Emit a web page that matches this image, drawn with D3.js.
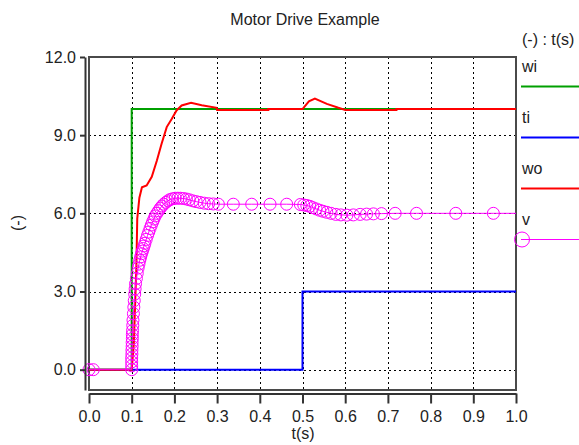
<!DOCTYPE html>
<html>
<head>
<meta charset="utf-8">
<script src="https://cdn.jsdelivr.net/npm/d3@7"></script>
<style>
body { margin: 0; background: #ffffff; }
text { font-family: "Liberation Sans", Arial, sans-serif; font-size: 16px; fill: #222; }
</style>
</head>
<body>
<script>

// series data
var wiT = [0, 0.1, 0.1, 1.0];
var wiV = [0, 0, 10, 10];

var tiT = [0, 0.5, 0.5, 1.0];
var tiV = [0, 0, 3, 3];

var woT = [0, 0.1, 0.105, 0.108, 0.111, 0.113, 0.118, 0.124, 0.135, 0.147, 0.159, 0.170, 0.182, 0.194, 0.205, 0.217, 0.239, 0.264, 0.299, 0.30, 0.42, 0.42, 0.50, 0.515, 0.529, 0.557, 0.584, 0.60, 0.72, 0.72, 1.0];
var woV = [0, 0, 1.0, 2.5, 4.0, 5.8, 6.6, 7.0, 7.07, 7.4, 8.03, 8.67, 9.31, 9.63, 9.95, 10.14, 10.24, 10.15, 10.05, 9.97, 9.97, 10.0, 10.0, 10.3, 10.4, 10.2, 10.05, 9.97, 9.97, 10.0, 10.0];

var vT = [0, 0.01, 0.1, 0.1, 0.1, 0.1, 0.1005, 0.1005, 0.101, 0.101, 0.1015, 0.1015, 0.102, 0.1025, 0.103, 0.104, 0.105, 0.106, 0.107, 0.108, 0.109, 0.111, 0.113, 0.115, 0.117, 0.119, 0.121, 0.123, 0.125, 0.127, 0.129, 0.131, 0.134, 0.137, 0.140, 0.143, 0.146, 0.149, 0.152, 0.155, 0.159, 0.163, 0.167, 0.171, 0.175, 0.180, 0.185, 0.190, 0.196, 0.202, 0.208, 0.214, 0.221, 0.228, 0.235, 0.243, 0.251, 0.260, 0.270, 0.280, 0.291, 0.303, 0.338, 0.381, 0.424, 0.463, 0.495, 0.503, 0.510, 0.517, 0.524, 0.532, 0.540, 0.548, 0.557, 0.567, 0.578, 0.590, 0.604, 0.619, 0.635, 0.650, 0.666, 0.685, 0.717, 0.767, 0.859, 0.947, 1.0];
var vV = [0, 0, 0, 0.15, 0.3, 0.45, 0.6, 0.75, 0.9, 1.05, 1.2, 1.35, 1.5, 1.7, 1.9, 2.15, 2.4, 2.65, 2.9, 3.1, 3.3, 3.5, 3.7, 3.9, 4.05, 4.2, 4.33, 4.45, 4.55, 4.65, 4.75, 4.85, 5.0, 5.15, 5.28, 5.42, 5.55, 5.67, 5.78, 5.9, 6.0, 6.1, 6.2, 6.28, 6.35, 6.42, 6.48, 6.53, 6.56, 6.58, 6.58, 6.58, 6.57, 6.55, 6.52, 6.48, 6.45, 6.42, 6.39, 6.37, 6.36, 6.35, 6.35, 6.35, 6.35, 6.35, 6.34, 6.32, 6.3, 6.27, 6.22, 6.17, 6.12, 6.08, 6.04, 6.0, 5.96, 5.94, 5.93, 5.94, 5.96, 5.97, 5.98, 5.99, 6.0, 6.0, 6.0, 6.0, 6.0];

var xTicks = [0, 0.1, 0.2, 0.3, 0.4, 0.5, 0.6, 0.7, 0.8, 0.9, 1.0];
var yTicks = [0, 3, 6, 9, 12];
var xGrid = [0.1, 0.2, 0.3, 0.4, 0.5, 0.6, 0.7, 0.8, 0.9];
var yGrid = [0, 3, 6, 9];

var names = ["wi", "ti", "wo", "v"];
var colors = ["#00a000", "#0000ff", "#ff0000", "#ff00ff"];

var svg = d3.select("body").append("svg")
	.attr("width", 579)
	.attr("height", 445);

var x = d3.scaleLinear().domain([0, 1]).range([89, 516]);
var y = d3.scaleLinear().domain([-0.78, 12]).range([390, 57]);

// dotted grid
svg.selectAll(".vgrid").data(xGrid).enter().append("line")
	.attr("x1", function(d) { return Math.round(x(d)) + 0.5; })
	.attr("x2", function(d) { return Math.round(x(d)) + 0.5; })
	.attr("y1", y.range()[1])
	.attr("y2", y.range()[0])
	.attr("stroke", "#000")
	.attr("stroke-width", 1)
	.attr("stroke-dasharray", "2,3");

svg.selectAll(".hgrid").data(yGrid).enter().append("line")
	.attr("x1", x.range()[0])
	.attr("x2", x.range()[1])
	.attr("y1", function(d) { return Math.round(y(d)) + 0.5; })
	.attr("y2", function(d) { return Math.round(y(d)) + 0.5; })
	.attr("stroke", "#000")
	.attr("stroke-width", 1)
	.attr("stroke-dasharray", "2,3");

// plot frame
svg.append("rect")
	.attr("x", x.range()[0])
	.attr("y", y.range()[1])
	.attr("width", x.range()[1] - x.range()[0])
	.attr("height", y.range()[0] - y.range()[1])
	.attr("fill", "none")
	.attr("stroke", "#4a4a4a")
	.attr("stroke-width", 2);

var line = d3.line()
	.x(function(d) { return x(d[0]); })
	.y(function(d) { return y(d[1]); });

function pairs(ts, vs) {
	return ts.map(function(t, i) { return [t, vs[i]]; });
}

// the three plain curves
var series = [pairs(wiT, wiV), pairs(tiT, tiV), pairs(woT, woV)];
series.forEach(function(s, i) {
	svg.append("path")
		.attr("d", line(s))
		.attr("fill", "none")
		.attr("stroke", colors[i])
		.attr("stroke-width", 2);
});

// v with circle markers (last sample carries no marker)
var vData = pairs(vT, vV);
svg.append("path")
	.attr("d", line(vData))
	.attr("fill", "none")
	.attr("stroke", colors[3])
	.attr("stroke-width", 1);

svg.selectAll(".vmark").data(vData.slice(0, -1)).enter().append("circle")
	.attr("cx", function(d) { return x(d[0]); })
	.attr("cy", function(d) { return y(d[1]); })
	.attr("r", 6)
	.attr("fill", "none")
	.attr("stroke", colors[3])
	.attr("stroke-width", 1);

// axes
var yAxis = svg.append("g")
	.attr("transform", "translate(85,0)")
	.call(d3.axisLeft(y).tickValues(yTicks).tickFormat(d3.format(".1f")).tickSize(5).tickSizeOuter(0).tickPadding(4));

var xAxis = svg.append("g")
	.attr("transform", "translate(0,393.5)")
	.call(d3.axisBottom(x).tickValues(xTicks).tickFormat(d3.format(".1f")).tickSize(10).tickSizeOuter(0).tickPadding(7));

svg.selectAll(".domain").attr("stroke", "#333").attr("stroke-width", 2);
svg.selectAll(".tick line").attr("stroke", "#333").attr("stroke-width", 2);
svg.selectAll(".tick text")
	.attr("font-family", "Liberation Sans, Arial, sans-serif")
	.attr("font-size", 16)
	.attr("fill", "#222");

// titles
svg.append("text")
	.attr("x", 305)
	.attr("y", 25)
	.attr("text-anchor", "middle")
	.text("Motor Drive Example");

svg.append("text")
	.attr("x", 303)
	.attr("y", 439)
	.attr("text-anchor", "middle")
	.text("t(s)");

svg.append("text")
	.attr("transform", "translate(23,223) rotate(-90)")
	.attr("text-anchor", "middle")
	.text("(-)");

// legend
svg.append("text")
	.attr("x", 522)
	.attr("y", 45)
	.text("(-) : t(s)");

names.forEach(function(n, i) {
	var ty = 72 + i * 51;
	svg.append("text")
		.attr("x", 522)
		.attr("y", ty)
		.text(n);
	svg.append("line")
		.attr("x1", 521)
		.attr("x2", 579)
		.attr("y1", ty + 14.5)
		.attr("y2", ty + 14.5)
		.attr("stroke", colors[i])
		.attr("stroke-width", i == 3 ? 1 : 2);
	if (i == 3) {
		svg.append("circle")
			.attr("cx", 522)
			.attr("cy", ty + 14.5)
			.attr("r", 7.5)
			.attr("fill", "none")
			.attr("stroke", colors[i])
			.attr("stroke-width", 1);
	}
});

</script>
</body>
</html>
